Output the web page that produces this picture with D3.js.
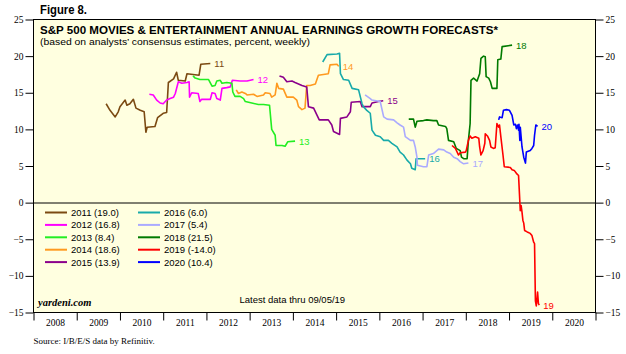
<!DOCTYPE html>
<html>
<head>
<meta charset="utf-8">
<script src="https://cdn.jsdelivr.net/npm/d3@7"></script>
<style>
  body { margin: 0; background: #fff; }
</style>
</head>
<body>
<div id="chart-area"></div>
<script>
// series: [decimal year, percent]
let s2011 = [[2009.68,13.5],[2009.77,12.6],[2009.89,11.7],[2009.96,12.4],[2010.00,13.1],[2010.12,14.0],[2010.16,13.3],[2010.23,13.5],[2010.31,14.1],[2010.37,12.9],[2010.47,12.6],[2010.56,12.4],[2010.60,9.6],[2010.63,10.3],[2010.81,10.4],[2010.87,11.6],[2011.00,12.2],[2011.08,12.3],[2011.12,16.4],[2011.24,16.9],[2011.31,17.8],[2011.35,16.7],[2011.51,16.6],[2011.55,17.6],[2011.83,17.4],[2011.87,18.9],[2012.09,19.0]];
let s2012 = [[2010.68,14.8],[2010.77,14.7],[2010.85,14.0],[2010.93,13.6],[2011.00,13.5],[2011.08,14.0],[2011.16,14.2],[2011.24,14.4],[2011.28,14.9],[2011.35,16.5],[2011.43,16.3],[2011.55,16.4],[2011.60,16.5],[2011.61,14.4],[2011.66,15.0],[2011.81,14.9],[2011.85,13.8],[2011.89,14.1],[2012.09,14.1],[2012.13,15.0],[2012.20,14.9],[2012.24,14.2],[2012.32,14.0],[2012.36,15.6],[2012.47,15.7],[2012.55,15.8],[2012.60,16.7],[2012.78,16.6],[2012.94,16.6],[2013.09,16.8]];
let s2013 = [[2011.69,17.3],[2011.74,17.0],[2011.85,16.8],[2012.05,16.8],[2012.13,15.9],[2012.20,16.0],[2012.24,16.6],[2012.32,16.7],[2012.36,16.3],[2012.47,16.4],[2012.59,16.3],[2012.61,15.1],[2012.66,14.5],[2012.78,14.5],[2012.86,14.2],[2012.90,13.8],[2013.05,13.6],[2013.20,13.4],[2013.32,13.4],[2013.46,13.3],[2013.51,10.0],[2013.59,9.2],[2013.61,7.8],[2013.75,7.8],[2013.82,7.7],[2013.88,8.3],[2014.05,8.4]];
let s2014 = [[2012.69,15.4],[2012.74,14.9],[2012.82,15.1],[2012.90,14.9],[2012.94,14.7],[2013.09,14.8],[2013.17,14.5],[2013.32,14.7],[2013.36,15.0],[2013.47,14.9],[2013.51,14.4],[2013.59,14.7],[2013.63,16.3],[2013.67,15.6],[2013.78,15.5],[2013.86,14.4],[2014.01,14.4],[2014.09,14.0],[2014.13,13.1],[2014.21,12.7],[2014.28,12.9],[2014.32,16.0],[2014.40,16.0],[2014.52,16.2],[2014.59,17.4],[2014.82,17.6],[2014.86,18.8],[2015.02,18.9],[2015.06,18.6]];
let s2015 = [[2013.69,17.3],[2013.78,17.1],[2013.86,16.5],[2013.98,16.6],[2014.05,16.4],[2014.21,16.0],[2014.32,15.8],[2014.36,13.1],[2014.48,12.9],[2014.56,11.9],[2014.61,11.3],[2014.82,11.3],[2014.90,10.6],[2014.94,9.7],[2015.08,9.3],[2015.10,11.5],[2015.25,11.7],[2015.33,12.4],[2015.35,13.7],[2015.56,13.8],[2015.60,13.1],[2015.79,13.1],[2015.83,13.6],[2015.98,13.8],[2016.09,13.9]];
let s2016 = [[2014.69,19.2],[2014.79,20.2],[2015.02,20.3],[2015.08,20.4],[2015.10,17.6],[2015.17,16.8],[2015.29,16.7],[2015.37,15.6],[2015.52,15.4],[2015.60,13.5],[2015.63,13.1],[2015.71,12.6],[2015.79,12.2],[2015.83,9.9],[2015.91,9.2],[2016.02,9.0],[2016.10,8.5],[2016.21,8.5],[2016.29,8.1],[2016.41,7.6],[2016.48,6.9],[2016.56,6.5],[2016.64,5.8],[2016.72,5.3],[2016.75,4.7],[2016.83,4.5],[2016.85,6.0],[2017.06,6.0]];
let s2017 = [[2015.67,14.7],[2015.79,14.2],[2015.83,14.0],[2016.02,13.8],[2016.10,11.7],[2016.18,11.4],[2016.33,11.3],[2016.41,10.9],[2016.48,10.6],[2016.56,10.3],[2016.60,9.0],[2016.72,8.5],[2016.79,8.5],[2016.83,7.6],[2016.87,6.2],[2016.88,5.1],[2017.02,4.9],[2017.10,4.9],[2017.14,6.5],[2017.25,6.7],[2017.37,7.3],[2017.49,7.2],[2017.56,6.9],[2017.64,6.7],[2017.72,6.2],[2017.80,6.0],[2017.87,5.6],[2017.95,5.3],[2018.06,5.4]];
let s2018 = [[2016.68,11.4],[2016.79,11.4],[2016.83,10.3],[2016.87,11.1],[2017.02,11.2],[2017.10,11.3],[2017.25,11.2],[2017.33,11.2],[2017.37,10.6],[2017.53,10.4],[2017.56,10.1],[2017.60,8.5],[2017.72,8.3],[2017.78,7.4],[2017.87,7.1],[2017.90,6.2],[2017.95,6.0],[2018.03,6.0],[2018.06,8.5],[2018.10,10.8],[2018.12,16.7],[2018.18,17.0],[2018.26,16.6],[2018.32,17.6],[2018.35,19.7],[2018.41,20.0],[2018.45,19.9],[2018.47,17.2],[2018.53,17.0],[2018.57,16.5],[2018.61,15.6],[2018.72,15.6],[2018.74,19.5],[2018.81,19.6],[2018.84,21.3],[2019.07,21.5]];
let s2019 = [[2017.68,7.8],[2017.76,7.4],[2017.83,6.5],[2017.87,6.8],[2017.99,6.9],[2018.01,7.1],[2018.06,8.5],[2018.10,9.1],[2018.14,8.8],[2018.22,9.0],[2018.30,8.8],[2018.32,7.6],[2018.35,6.5],[2018.40,7.1],[2018.44,8.1],[2018.45,9.4],[2018.50,9.1],[2018.55,8.5],[2018.58,7.6],[2018.64,7.4],[2018.68,7.5],[2018.72,10.8],[2018.76,10.3],[2018.78,10.6],[2018.81,9.0],[2018.86,6.5],[2018.89,4.9],[2019.03,4.8],[2019.07,4.5],[2019.12,4.4],[2019.17,4.0],[2019.22,3.7],[2019.25,0.1],[2019.26,-1.1],[2019.28,-0.4],[2019.30,-1.3],[2019.32,-2.4],[2019.34,-2.8],[2019.36,-3.8],[2019.42,-4.0],[2019.49,-4.2],[2019.53,-4.5],[2019.57,-5.4],[2019.59,-5.6],[2019.61,-13.4],[2019.63,-14.1],[2019.65,-12.9],[2019.66,-12.2],[2019.68,-13.8],[2019.70,-14.0]];
let s2020 = [[2018.76,11.3],[2018.78,11.7],[2018.84,11.6],[2018.87,12.6],[2018.94,12.7],[2019.01,12.6],[2019.07,11.9],[2019.11,10.6],[2019.15,10.7],[2019.17,10.1],[2019.20,10.6],[2019.22,9.9],[2019.23,10.7],[2019.25,8.5],[2019.26,10.3],[2019.30,7.6],[2019.34,6.2],[2019.38,5.4],[2019.40,6.9],[2019.49,7.1],[2019.53,7.4],[2019.57,7.8],[2019.59,9.2],[2019.62,10.6],[2019.66,10.4]];

let seriesData = [s2011, s2012, s2013, s2014, s2015, s2016, s2017, s2018, s2019, s2020];
let seriesNames = ["2011","2012","2013","2014","2015","2016","2017","2018","2019","2020"];
let seriesShort = ["11","12","13","14","15","16","17","18","19","20"];
let finalValues = ["19.0","16.8","8.4","18.6","13.9","6.0","5.4","21.5","-14.0","10.4"];
let colors = ["#7B4A12","#FF00FF","#22EE22","#FF9A1F","#8B008B","#18AAAA","#AAAAFF","#007A00","#FF0000","#0000FF"];

let yTicks = [-15,-10,-5,0,5,10,15,20,25];
let xYears = d3.range(2008, 2021);

let sans = "'Liberation Sans', Arial, sans-serif";
let serif = "'Liberation Serif', 'Times New Roman', serif";

let margin = {top: 19.5, left: 33.5};
let width = 562, height = 293;

let svg = d3.select("#chart-area").append("svg")
    .attr("width", 626).attr("height", 354)
    .style("font-family", sans);

svg.append("text")
    .attr("x", 40).attr("y", 13.5)
    .style("font-family", "'Liberation Sans Narrow', 'Liberation Sans', sans-serif")
    .style("font-weight", "bold").style("font-size", "12px")
    .attr("textLength", 47).attr("lengthAdjust", "spacingAndGlyphs")
    .text("Figure 8.");

let g = svg.append("g").attr("transform", "translate(" + margin.left + "," + margin.top + ")");

let x = d3.scaleLinear().domain([2008, 2021]).range([0, width]);
let y = d3.scaleLinear().domain([-15, 25]).range([height, 0]);

// plot background
g.append("rect").attr("width", width).attr("height", height)
    .attr("fill", "#FFFFE0").attr("stroke", "#000").attr("stroke-width", 1);

// zero line
g.append("line").attr("x1", 0).attr("x2", width)
    .attr("y1", Math.round(y(0)) + 0.5).attr("y2", Math.round(y(0)) + 0.5)
    .attr("stroke", "#000").attr("stroke-width", 1);

// axes
let yl = g.append("g")
    .call(d3.axisLeft(y).tickValues(yTicks).tickSize(8).tickPadding(2));
let yr = g.append("g").attr("transform", "translate(" + width + ",0)")
    .call(d3.axisRight(y).tickValues(yTicks).tickSize(8).tickPadding(2));
let xt = g.append("g").attr("transform", "translate(0," + height + ")")
    .call(d3.axisBottom(x).tickValues(xYears.concat([2021])).tickSize(8).tickFormat(""));
let xl = g.append("g").attr("transform", "translate(0," + height + ")")
    .call(d3.axisBottom(x).tickValues(xYears.map(d => d + 0.5)).tickSize(0).tickPadding(7)
        .tickFormat(d => Math.floor(d)));
[yl, yr, xt, xl].forEach(a => {
    a.select(".domain").remove();
    a.attr("font-family", null);
    a.selectAll("text").style("font-size", "9.5px").style("font-family", serif).attr("fill", "#000");
    a.selectAll("line").attr("stroke", "#000");
});

// title
g.append("text").attr("x", 6.5).attr("y", 14)
    .style("font-weight", "bold").style("font-size", "11.5px")
    .attr("textLength", 458).attr("lengthAdjust", "spacingAndGlyphs")
    .text("S&P 500 MOVIES & ENTERTAINMENT ANNUAL EARNINGS GROWTH FORECASTS*");
g.append("text").attr("x", 6.5).attr("y", 25.5)
    .style("font-size", "9px")
    .attr("textLength", 270).attr("lengthAdjust", "spacingAndGlyphs")
    .text("(based on analysts\u2019 consensus estimates, percent, weekly)");

// lines
let line = d3.line().x(d => x(d[0])).y(d => y(d[1]));
seriesData.forEach((s, i) => {
    g.append("path").datum(s)
        .attr("fill", "none").attr("stroke", colors[i])
        .attr("stroke-width", 1.6).attr("stroke-linejoin", "round")
        .attr("d", line);
    let last = s[s.length - 1];
    g.append("text")
        .attr("x", x(last[0]) + 4).attr("y", y(last[1]) + 3.5)
        .style("font-size", "9.5px").attr("fill", colors[i])
        .text(seriesShort[i]);
});

// legend
seriesNames.forEach((n, i) => {
    let col = Math.floor(i / 5), row = i % 5;
    let lx = 45 + col * 93 - margin.left, ly = 212.5 + row * 12.4 - margin.top;
    g.append("line").attr("x1", lx).attr("x2", lx + 22).attr("y1", ly).attr("y2", ly)
        .attr("stroke", colors[i]).attr("stroke-width", 2);
    g.append("text").attr("x", lx + 26).attr("y", ly + 3.5)
        .style("font-size", "9.5px").text(n + " (" + finalValues[i] + ")");
});

g.append("text")
    .attr("x", 38 - margin.left).attr("y", 306 - margin.top)
    .style("font-family", serif)
    .style("font-size", "10.5px").style("font-style", "italic").style("font-weight", "bold")
    .text("yardeni.com");
g.append("text")
    .attr("x", 239.5 - margin.left).attr("y", 302.5 - margin.top)
    .style("font-size", "9.5px")
    .text("Latest data thru 09/05/19");

svg.append("text")
    .attr("x", 33.5).attr("y", 344)
    .style("font-family", serif)
    .style("font-size", "9px")
    .text("Source: I/B/E/S data by Refinitiv.");
</script>
</body>
</html>
